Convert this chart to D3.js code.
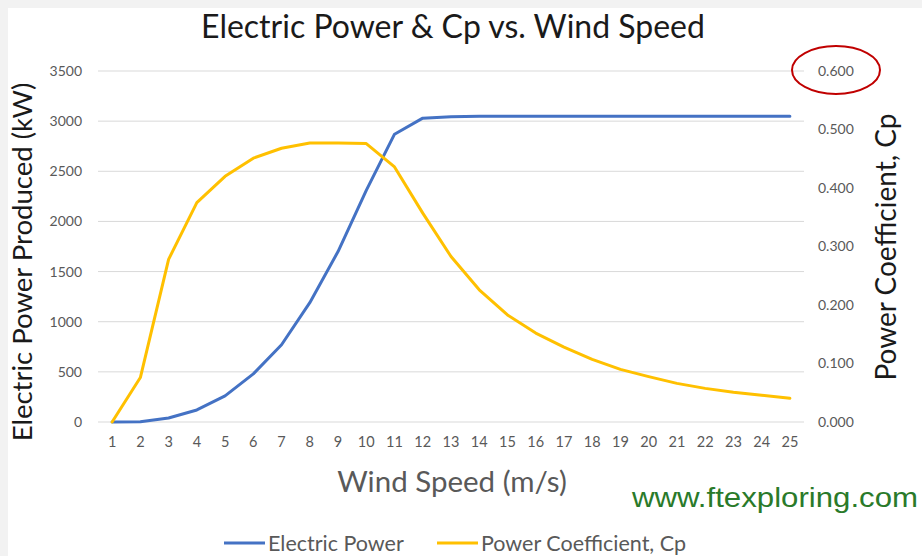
<!DOCTYPE html>
<html><head><meta charset="utf-8">
<script src="https://cdn.jsdelivr.net/npm/d3@7"></script>
<style>body{margin:0;background:#f2f2f2;}svg{display:block;}</style>
</head><body>
<svg id="c" width="922" height="556"></svg>
<script>
const windSpeed = [1,2,3,4,5,6,7,8,9,10,11,12,13,14,15,16,17,18,19,20,21,22,23,24,25];
const electricPower = [0,3,40,120,260,480,770,1190,1700,2310,2870,3030,3045,3050,3050,3050,3050,3050,3050,3050,3050,3050,3050,3050,3050];
const powerCoefficient = [0,0.076,0.278,0.375,0.420,0.451,0.468,0.477,0.477,0.476,0.436,0.357,0.283,0.226,0.183,0.152,0.128,0.107,0.090,0.0775,0.066,0.0575,0.051,0.0456,0.0405];
const leftTicks = [0,500,1000,1500,2000,2500,3000,3500];
const rightTicks = [0,0.1,0.2,0.3,0.4,0.5,0.6];

const FONT = "Lato, 'Open Sans', sans-serif";
const svg = d3.select("#c");
svg.append("rect").attr("x",8).attr("y",8).attr("width",914).attr("height",548).attr("fill","#fff");

const L=98, R=804, T=71, B=422;
const x = d3.scaleBand().domain(windSpeed).range([L,R]);
const yL = d3.scaleLinear().domain([0,3500]).range([B,T]);
const yR = d3.scaleLinear().domain([0,0.6]).range([B,T]);
const cx = d => x(d)+x.bandwidth()/2;

// gridlines
svg.append("g").selectAll("line").data(leftTicks).join("line")
  .attr("x1",L).attr("x2",R).attr("y1",d=>yL(d)).attr("y2",d=>yL(d))
  .attr("stroke","#d9d9d9").attr("stroke-width",1);

// left axis
const gl = svg.append("g").attr("transform",`translate(${L-16},0)`)
  .call(d3.axisLeft(yL).tickValues(leftTicks).tickFormat(d3.format("d")).tickSize(0).tickPadding(0));
gl.select(".domain").remove();
gl.selectAll("text").attr("fill","#595959").style("font-family",FONT).style("font-size","14px");

// right axis
const gr = svg.append("g").attr("transform",`translate(${R+14},0)`)
  .call(d3.axisRight(yR).tickValues(rightTicks).tickFormat(d3.format(".3f")).tickSize(0).tickPadding(0));
gr.select(".domain").remove();
gr.selectAll("text").attr("fill","#595959").style("font-family",FONT).style("font-size","14px");

// bottom axis
const gb = svg.append("g").attr("transform",`translate(0,${B+15})`)
  .call(d3.axisBottom(x).tickSize(0).tickPadding(0));
gb.select(".domain").remove();
gb.selectAll("text").attr("dy","0.71em").attr("fill","#595959").style("font-family",FONT).style("font-size","14.5px");

// lines
const lineP = d3.line().x((d,i)=>cx(windSpeed[i])).y(d=>yL(d));
const lineC = d3.line().x((d,i)=>cx(windSpeed[i])).y(d=>yR(d));
svg.append("path").datum(electricPower).attr("d",lineP).attr("fill","none")
  .attr("stroke","#4472C4").attr("stroke-width",3).attr("stroke-linejoin","round").attr("stroke-linecap","round");
svg.append("path").datum(powerCoefficient).attr("d",lineC).attr("fill","none")
  .attr("stroke","#FFC000").attr("stroke-width",3).attr("stroke-linejoin","round").attr("stroke-linecap","round");

// titles
svg.append("text").attr("x",453).attr("y",38).attr("text-anchor","middle")
  .style("font-family",FONT).style("font-size","32px").attr("fill","#1a1a1a")
  .text("Electric Power & Cp vs. Wind Speed");
svg.append("text").attr("x",452).attr("y",492).attr("text-anchor","middle")
  .style("font-family",FONT).style("font-size","29.5px").attr("fill","#595959")
  .text("Wind Speed (m/s)");
svg.append("text").attr("transform","translate(32,262) rotate(-90)").attr("text-anchor","middle")
  .style("font-family",FONT).style("font-size","27.5px").attr("fill","#1a1a1a")
  .text("Electric Power Produced (kW)");
svg.append("text").attr("transform","translate(896,247) rotate(-90)").attr("text-anchor","middle")
  .style("font-family",FONT).style("font-size","28px").attr("fill","#1a1a1a")
  .text("Power Coefficient, Cp");

// watermark
svg.append("text").attr("x",632).attr("y",507)
  .attr("textLength",286).attr("lengthAdjust","spacingAndGlyphs")
  .style("font-family","'Liberation Sans', Arial, sans-serif").style("font-size","28px").attr("fill","#2a7a2a")
  .text("www.ftexploring.com");

// legend
const legend = [{name:"Electric Power",color:"#4472C4",x:224},{name:"Power Coefficient, Cp",color:"#FFC000",x:437}];
const lg = svg.append("g").selectAll("g").data(legend).join("g");
lg.append("line").attr("x1",d=>d.x).attr("x2",d=>d.x+41).attr("y1",543).attr("y2",543)
  .attr("stroke",d=>d.color).attr("stroke-width",3);
lg.append("text").attr("x",d=>d.x+44).attr("y",551).style("font-family",FONT).style("font-size","21.5px")
  .attr("fill","#595959").text(d=>d.name);

// red annotation ellipse
svg.append("ellipse").attr("cx",836).attr("cy",70).attr("rx",44).attr("ry",24)
  .attr("fill","none").attr("stroke","#c00000").attr("stroke-width",2);
</script>
</body></html>
